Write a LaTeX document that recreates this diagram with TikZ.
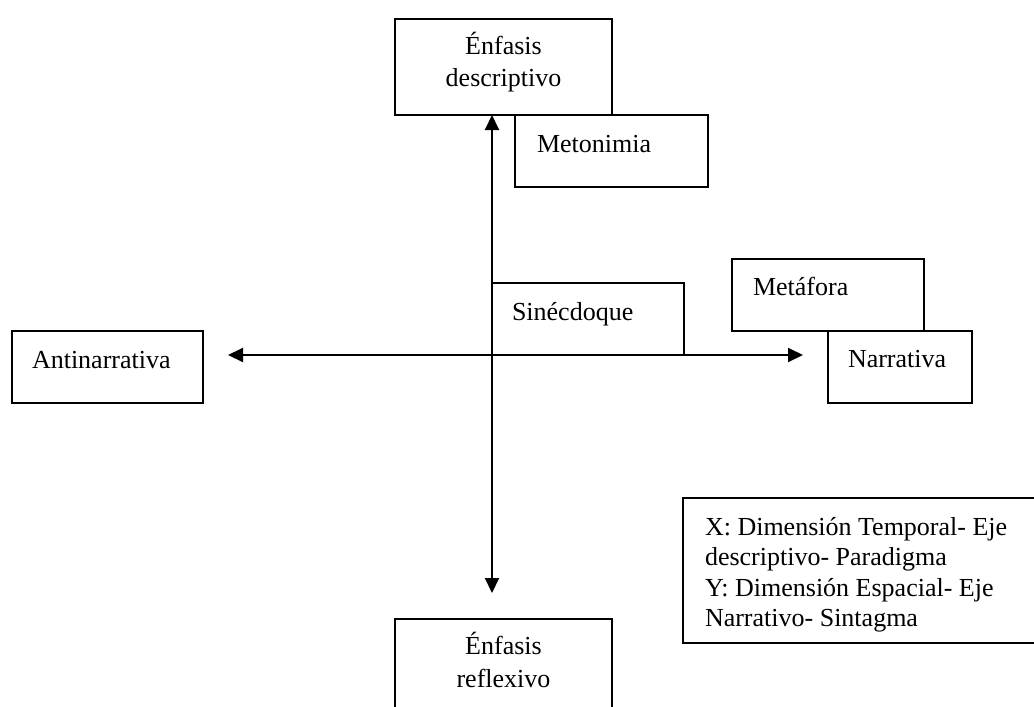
\documentclass[tikz,border=0pt]{standalone}
\usepackage{fontspec}
\setmainfont{Liberation Serif}
\usetikzlibrary{arrows.meta}
\tikzset{
  box/.style={draw, line width=1.3pt, anchor=north west, inner sep=0pt, outer sep=0pt},
  lbl/.style={inner sep=0pt, outer sep=0pt, font=\fontsize{26}{30.5}\selectfont},
  axis/.style={line width=2pt, {Triangle[length=15pt,width=14pt]}-{Triangle[length=15pt,width=14pt]}}
}
\begin{document}
\begin{tikzpicture}[x=1pt,y=-1pt]
\useasboundingbox (0,0) rectangle (1034,707);
\clip (0,0) rectangle (1034,707);
% boxes
\node[box, minimum width=217pt, minimum height=96pt] (desc) at (395,19) {};
\node[box, minimum width=193pt, minimum height=72pt, fill=white] (meto) at (515,115) {};
\node[box, minimum width=192pt, minimum height=72pt] (sine) at (492,283) {};
\node[box, minimum width=192pt, minimum height=72pt] (meta) at (732,259) {};
\node[box, minimum width=144pt, minimum height=72pt] (narr) at (828,331) {};
\node[box, minimum width=191pt, minimum height=72pt] (anti) at (12,331) {};
\node[box, minimum width=217pt, minimum height=110pt] (refl) at (395,619) {};
\node[box, minimum width=360pt, minimum height=145pt] (leg) at (683,498) {};
% axes
\coordinate (vtop) at (492,115);
\coordinate (vbot) at (492,593);
\coordinate (hl) at (228,355);
\coordinate (hr) at (803,355);
\draw[axis] (vtop) -- (vbot);
\draw[axis] (hl) -- (hr);
% texts
\node[lbl, anchor=base] (t1a) at (503.5,54) {Énfasis};
\node[lbl, anchor=base] (t1b) at (503.5,86) {descriptivo};
\node[lbl, anchor=base west] (t2) at (537,152) {Metonimia};
\node[lbl, anchor=base west] (t3) at (512,320) {Sinécdoque};
\node[lbl, anchor=base west] (t4) at (753,295) {Metáfora};
\node[lbl, anchor=base west] (t5) at (848,367) {Narrativa};
\node[lbl, anchor=base west] (t6) at (32,368) {Antinarrativa};
\node[lbl, anchor=base] (t7a) at (503.5,654) {Énfasis};
\node[lbl, anchor=base] (t7b) at (503.5,687) {reflexivo};
\node[lbl, anchor=base west] (l1) at (705,535) {X: Dimensión Temporal- Eje};
\node[lbl, anchor=base west] (l2) at (705,565.5) {descriptivo- Paradigma};
\node[lbl, anchor=base west] (l3) at (705,596) {Y: Dimensión Espacial- Eje};
\node[lbl, anchor=base west] (l4) at (705,626.5) {Narrativo- Sintagma};
\end{tikzpicture}
\end{document}
